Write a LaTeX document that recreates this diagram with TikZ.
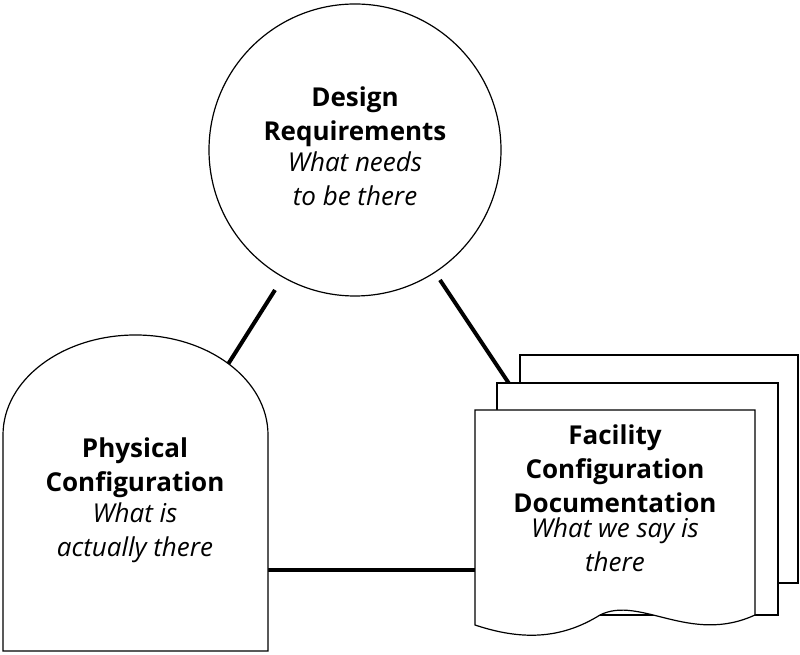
\documentclass[tikz,border=0pt]{standalone}
\usepackage{fontspec}
\setmainfont{Open Sans}
\usetikzlibrary{positioning}
\begin{document}
\begin{tikzpicture}[x=1pt,y=1pt]
	\useasboundingbox (0,0) rectangle (800,655);
	\tikzstyle{title}=[font=\fontsize{26}{34}\selectfont\bfseries, align=center]
	\tikzstyle{sub}=[font=\fontsize{26}{34}\selectfont\itshape, align=center]
	\tikzstyle{outline}=[draw=black, line width=1.2pt, fill=white]
	\tikzstyle{link}=[line width=4pt]
	% links first
	\coordinate (c1) at (275,365);
	\coordinate (t1) at (213,267);
	\coordinate (c2) at (440,375);
	\coordinate (d1) at (510,270);
	\coordinate (t2) at (268,85);
	\coordinate (d2) at (478,85);
	\draw[link] (c1) -- (t1);
	\draw[link] (c2) -- (d1);
	\draw[link] (t2) -- (d2);
	% design requirements
	\node[circle, outline, minimum size=292pt] (DR) at (355,505) {};
	\node[title] (DRt) at (355,538) {Design\\Requirements};
	\node[sub, below=-2pt of DRt] (DRs) {What needs\\to be there};
	% physical configuration
	\draw[outline] (3,4) -- (3,220) arc[start angle=180, end angle=0, x radius=132.5, y radius=100] -- (268,4) -- cycle;
	\node[title] (PCt) at (135,187) {Physical\\Configuration};
	\node[sub, below=-2pt of PCt] (PCs) {What is\\actually there};
	% documentation pages
	\draw[outline] (520,300) rectangle (798,72);
	\draw[outline] (497,272) rectangle (778,40);
	\draw[outline] (475,245) -- (755,245) -- (755,40)
		.. controls (690,10) and (640,60) .. (600,40)
		.. controls (560,15) and (520,15) .. (475,30) -- cycle;
	\node[title] (FCt) at (615,186) {Facility\\Configuration\\Documentation};
	\node[sub, below=-2pt of FCt] (FCs) {What we say is\\there};
\end{tikzpicture}
\end{document}
